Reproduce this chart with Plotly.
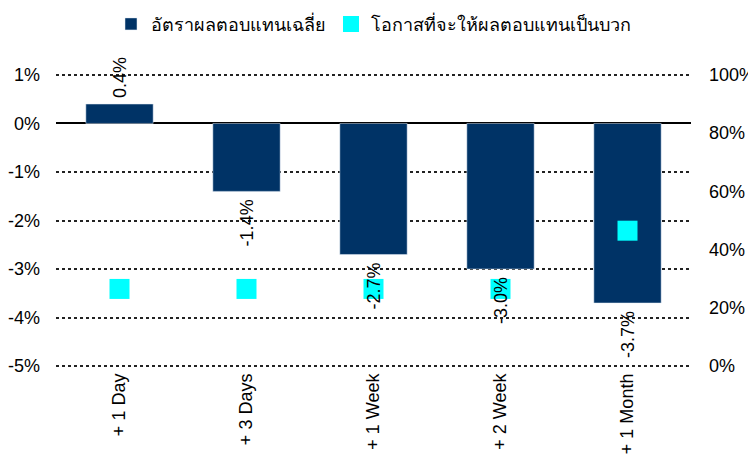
import plotly.graph_objects as go

categories = ["+ 1 Day", "+ 3 Days", "+ 1 Week", "+ 2 Week", "+ 1 Month"]
avg_return = [0.4, -1.4, -2.7, -3.0, -3.7]
prob_positive = [26.5, 26.5, 26.5, 26.5, 46.5]
avg_labels = ["0.4%", "-1.4%", "-2.7%", "-3.0%", "-3.7%"]

left_ticks = [1, 0, -1, -2, -3, -4, -5]
left_ticklabels = ["1%", "0%", "-1%", "-2%", "-3%", "-4%", "-5%"]
right_ticks = [0, 20, 40, 60, 80, 100]
right_ticklabels = ["0%", "20%", "40%", "60%", "80%", "100%"]

font_family = "Liberation Sans, Arial, sans-serif"
pad = 0.06  # small padding so edge gridlines are drawn
left_range = [-5 - pad, 1 + pad]
scale = 100 / 6.0
right_range = [0 - pad * scale, 100 + pad * scale]

fig = go.Figure()
fig.add_trace(go.Bar(
    x=categories, y=avg_return, name="อัตราผลตอบแทนเฉลี่ย",
    marker=dict(color="#003366"),
))
fig.add_trace(go.Scatter(
    x=categories, y=prob_positive, name="โอกาสที่จะให้ผลตอบแทนเป็นบวก",
    mode="markers", yaxis="y2",
    marker=dict(symbol="square", size=20, color="#00FFFF"),
    cliponaxis=False,
))

annotations = []
for c, v, t in zip(categories, avg_return, avg_labels):
    annotations.append(dict(
        x=c, y=v, xref="x", yref="y", text=t, showarrow=False,
        textangle=-90, font=dict(size=18, color="black", family=font_family),
        yanchor="bottom" if v >= 0 else "top",
        yshift=5 if v >= 0 else -7, borderpad=0,
    ))

fig.update_layout(
    width=748, height=450,
    margin=dict(l=48, r=65, t=64, b=89, autoexpand=False),
    paper_bgcolor="white", plot_bgcolor="white",
    font=dict(family=font_family, size=18, color="black"),
    bargap=0.47,
    showlegend=True,
    legend=dict(orientation="h", x=0.5, xanchor="center", y=0.964, yanchor="middle",
                yref="container", font=dict(size=18), itemwidth=30,
                traceorder="normal"),
    annotations=annotations,
    xaxis=dict(type="category", tickangle=-90, showgrid=False, showline=False,
               ticks="", tickfont=dict(size=18)),
    yaxis=dict(range=left_range, tickvals=left_ticks, ticktext=left_ticklabels,
               showgrid=True, gridcolor="#222222", griddash="3px,3px", gridwidth=2,
               zeroline=True, zerolinecolor="black", zerolinewidth=1.5,
               ticks="", tickfont=dict(size=18), ticklabelstandoff=15),
    yaxis2=dict(range=right_range, overlaying="y", side="right",
                tickvals=right_ticks, ticktext=right_ticklabels,
                showgrid=False, zeroline=False, ticks="",
                tickfont=dict(size=18), ticklabelstandoff=17),
)

fig.write_html("out.html")
